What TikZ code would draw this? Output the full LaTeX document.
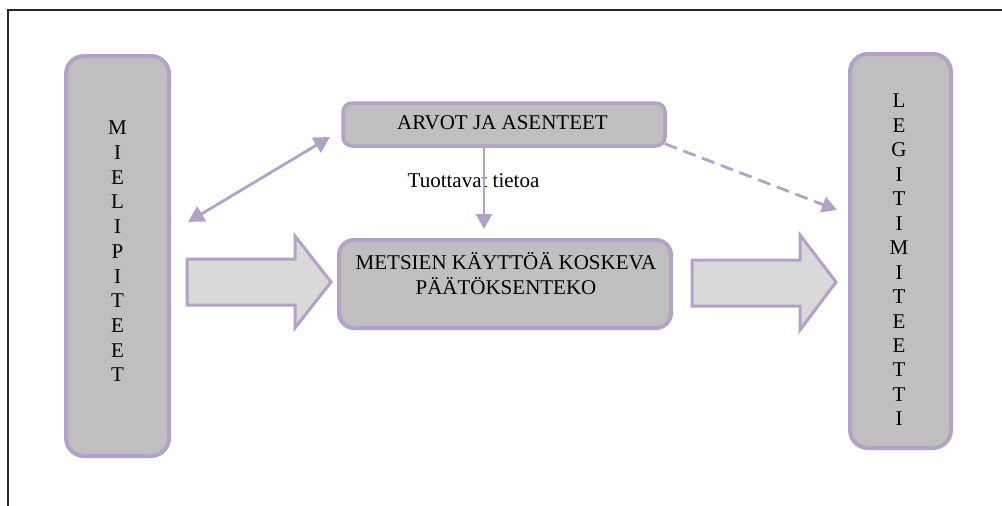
\documentclass[tikz,border=0pt]{standalone}
\usepackage{fontspec}
\setmainfont{Liberation Serif}
\usetikzlibrary{arrows.meta}
\definecolor{lav}{HTML}{B3A2C7}
\definecolor{boxgray}{HTML}{BFBFBF}
\definecolor{arrgray}{HTML}{D9D9D9}
\begin{document}
\begin{tikzpicture}[x=1pt,y=-1pt,
  box/.style={draw=lav, line width=4pt, fill=boxgray, inner sep=0pt},
  txt/.style={font=\fontsize{21}{24.7}\selectfont, inner sep=0pt, align=center},
  conn/.style={draw=lav, line width=2.8pt},
  tip/.style={-{Triangle[length=15pt,width=16pt]}},
  blockarrow/.style={draw=lav, line width=3pt, fill=arrgray, line join=miter}]
\useasboundingbox (0,0) rectangle (1002,506);
\draw[line width=1.5pt, black!85] (8,506) -- (8,10) -- (1002,10);

% boxes
\node[box, rounded corners=18pt, minimum width=103pt, minimum height=400pt] (miel) at (117.5,256) {};
\node[txt] (mieltxt) at (117.5,251.5) {M\\I\\E\\L\\I\\P\\I\\T\\E\\E\\T};

\node[box, rounded corners=18pt, minimum width=101pt, minimum height=394pt] (legit) at (900.5,251) {};
\node[txt, font=\fontsize{21}{24.45}\selectfont] (legittxt) at (899,260) {L\\E\\G\\I\\T\\I\\M\\I\\T\\E\\E\\T\\T\\I};

\node[box, line width=3.5pt, rounded corners=9pt, minimum width=322pt, minimum height=43pt] (arvot) at (504,124.5) {};
\node[txt, anchor=base] (arvottxt) at (502.5,129) {ARVOT JA ASENTEET};

\node[box, rounded corners=15pt, minimum width=332pt, minimum height=88pt] (mets) at (505,284) {};
\node[txt, font=\fontsize{21}{25}\selectfont] (metstxt) at (506,274) {METSIEN KÄYTTÖÄ KOSKEVA\\PÄÄTÖKSENTEKO};

% label
\node[txt, anchor=base] (tuott) at (473.5,187) {Tuottavat tietoa};

% block arrows
\draw[blockarrow] (187,259) -- (295,259) -- (295,236) -- (331,282) -- (295,328) -- (295,305) -- (187,305) -- cycle;
\draw[blockarrow] (692,260) -- (800,260) -- (800,235) -- (836,282) -- (800,330) -- (800,306) -- (692,306) -- cycle;

% connectors
\draw[conn, tip] ([xshift=-20pt]arvot.south) -- ([xshift=-21pt,yshift=9pt]mets.north);
\coordinate (dl) at (188,222);
\coordinate (du) at (330,137);
\draw[conn, {Triangle[length=16pt,width=17pt]}-{Triangle[length=16pt,width=17pt]}] (dl) -- (du);
\coordinate (dashend) at (837,210);
\draw[conn, dash pattern=on 13pt off 7pt, tip] ([xshift=-2pt,yshift=4pt]arvot.south east) -- (dashend);
\end{tikzpicture}
\end{document}
